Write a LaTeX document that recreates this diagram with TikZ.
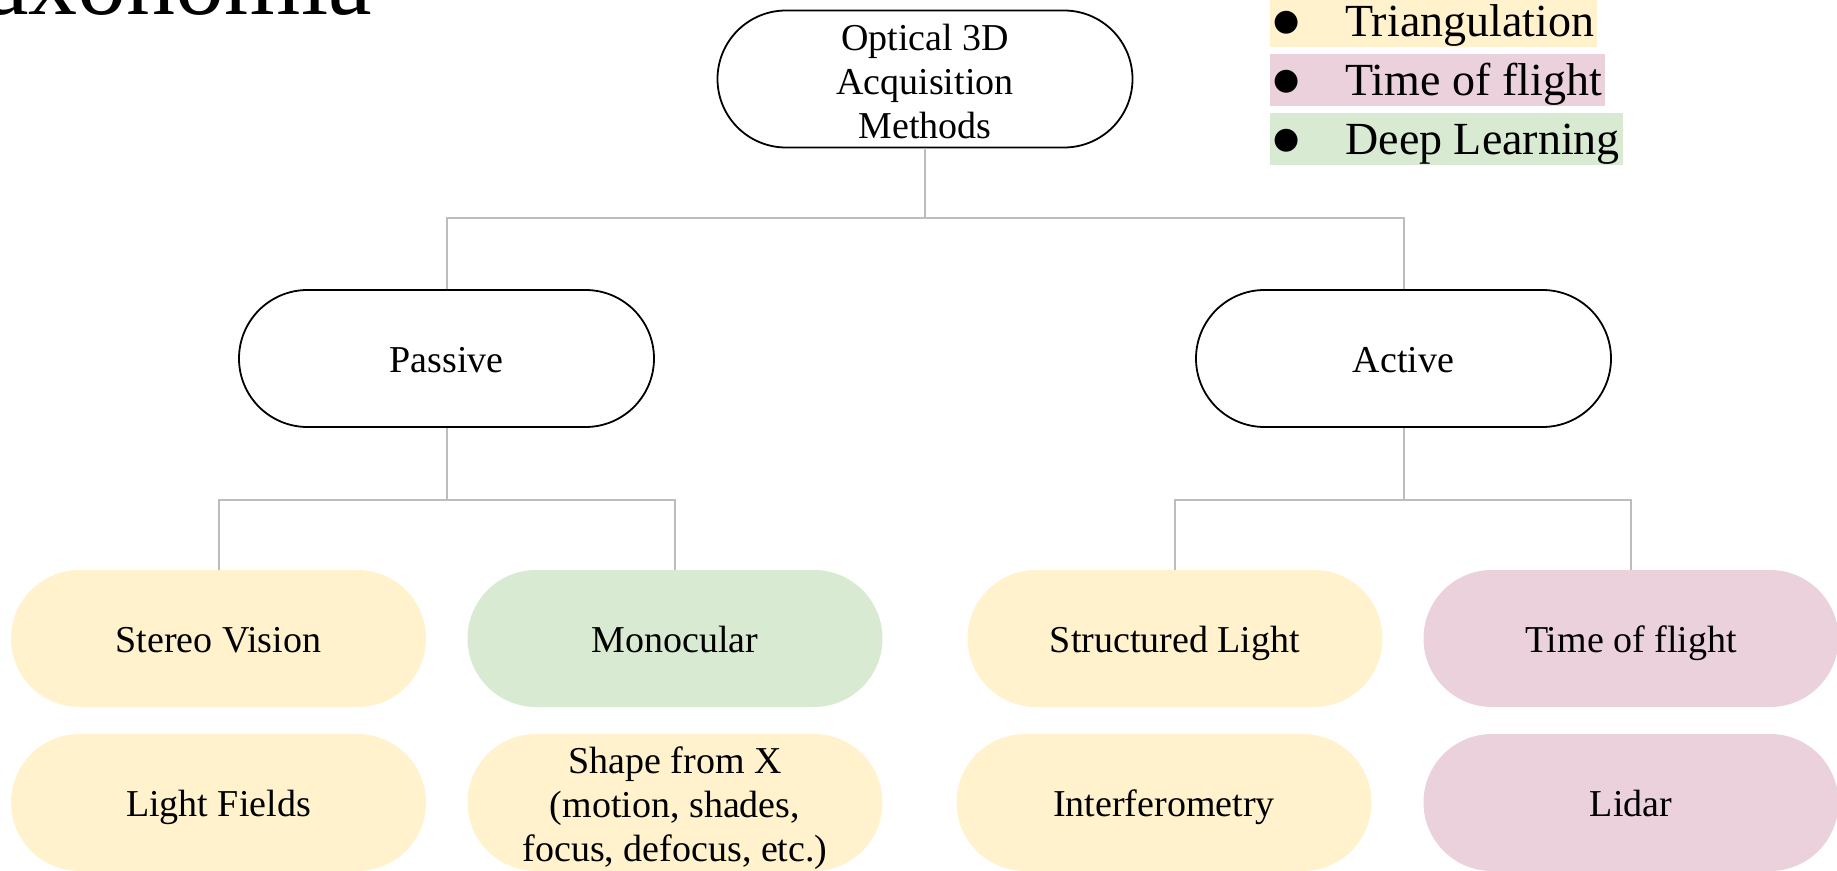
\documentclass[tikz,border=0pt]{standalone}
\usepackage{fontspec}
\setmainfont{Liberation Serif}
\newfontfamily\djv{DejaVu Sans}
\definecolor{triY}{HTML}{FFF2CC}
\definecolor{tofP}{HTML}{EAD1DC}
\definecolor{dlG}{HTML}{D9EAD3}
\definecolor{connG}{HTML}{BDBDBD}
\tikzset{
  pill/.style={rectangle, rounded corners=34.25pt, minimum width=207.5pt, minimum height=68.5pt,
    inner sep=0pt, align=center, font=\fontsize{19}{22}\selectfont},
  one/.style={text height=18pt, text depth=4pt},
  outl/.style={pill, draw=black, line width=0.9pt, fill=white},
  conn/.style={draw=connG, line width=1pt},
  leg/.style={anchor=west, inner xsep=1.5pt, inner ysep=1pt, text height=20pt, text depth=4pt,
    font=\fontsize{23}{27}\selectfont}
}
\newcommand{\legbul}{\makebox[36pt][l]{\raisebox{3pt}{\fontsize{15}{15}\djv ●}}}
\begin{document}
\begin{tikzpicture}[x=0.5pt,y=-0.5pt]
\useasboundingbox (0,0) rectangle (1837,871);
\clip (0,0) rectangle (1837,871);
% title
\node[anchor=base east, inner sep=0pt, font=\fontsize{49}{54}\selectfont] (title) at (372,15) {Taxonomia};
% legend
\node[leg, fill=triY] (l1) at (1270,21) {\legbul Triangulation};
\node[leg, fill=tofP] (l2) at (1270,80) {\legbul Time of flight};
\node[leg, fill=dlG] (l3) at (1270,139) {\legbul Deep Learning};
% nodes
\node[outl] (top) at (925,79) {\rule{0pt}{15.5pt}Optical 3D\\Acquisition\\Methods};
\node[outl, one] (passive) at (446.5,358.5) {Passive};
\node[outl, one] (active) at (1403.5,358.5) {Active};
\node[pill, one, fill=triY] (stereo) at (218.5,638.5) {Stereo Vision};
\node[pill, one, fill=dlG] (mono) at (675,638.5) {Monocular};
\node[pill, one, fill=triY] (struct) at (1175,638.5) {Structured Light};
\node[pill, one, fill=tofP] (tof) at (1631,638.5) {Time of flight};
\node[pill, one, fill=triY] (light) at (218.5,802.5) {Light Fields};
\node[pill, fill=triY] (shape) at (675,802.5) {\rule{0pt}{19pt}Shape from X\\(motion, shades,\\focus, defocus, etc.)};
\node[pill, one, fill=triY] (interf) at (1164,802.5) {Interferometry};
\node[pill, one, fill=tofP] (lidar) at (1631,802.5) {Lidar};
% connectors
\draw[conn] (top.south) -- ++(0,70) -| (passive.north);
\draw[conn] (top.south) -- ++(0,70) -| (active.north);
\draw[conn] (passive.south) -- ++(0,72) -| (stereo.north);
\draw[conn] (passive.south) -- ++(0,72) -| (mono.north);
\draw[conn] (active.south) -- ++(0,72) -| (struct.north);
\draw[conn] (active.south) -- ++(0,72) -| (tof.north);
\end{tikzpicture}
\end{document}
